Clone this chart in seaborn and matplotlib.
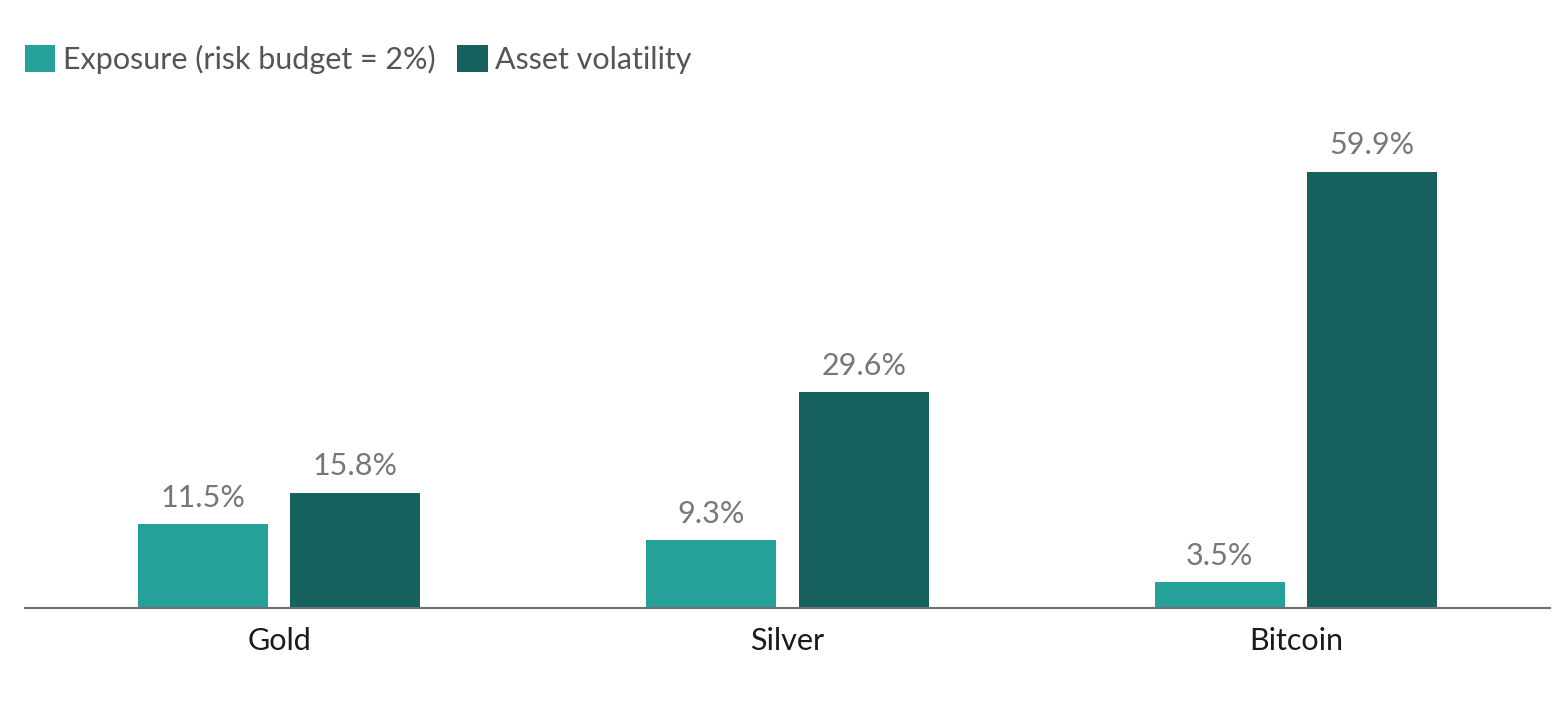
import pandas as pd
import seaborn as sns
import matplotlib.pyplot as plt
from matplotlib.patches import Patch

assets = ['Gold', 'Silver', 'Bitcoin']
exposure = [11.5, 9.3, 3.5]
volatility = [15.8, 29.6, 59.9]
series = ['Exposure (risk budget = 2%)', 'Asset volatility']
colors = ['#26A19A', '#17615E']

df = pd.DataFrame({
    'asset': assets * 2,
    'value': exposure + volatility,
    'series': [series[0]] * 3 + [series[1]] * 3,
})

sns.set_theme(style='white')
plt.rcParams['font.family'] = ['Lato', 'DejaVu Sans']

fig = plt.figure(figsize=(15.55, 7.2), dpi=100)
ax = fig.add_axes([0.0161, 0.1556, 0.9807, 0.7078])

sns.barplot(data=df, x='asset', y='value', hue='series', palette=colors,
            saturation=1, width=0.6, gap=0.148, linewidth=0,
            legend=False, ax=ax)

for c in ax.containers:
    ax.bar_label(c, labels=[f'{v:.1f}%' for v in c.datavalues],
                 padding=9, fontsize=22, color='#777777')

ax.set_xlim(-0.5, 2.5)
ax.set_ylim(0, 70)
ax.set_xlabel('')
ax.set_ylabel('')
ax.set_yticks([])
ax.tick_params(axis='x', length=0, labelsize=22, labelcolor='#1a1a1a', pad=14)
for s in ['top', 'right', 'left']:
    ax.spines[s].set_visible(False)
ax.spines['bottom'].set_color('#707070')
ax.spines['bottom'].set_linewidth(1.5)

handles = [Patch(facecolor=c, edgecolor='none') for c in colors]
fig.legend(handles, series, loc='upper left', bbox_to_anchor=(0.016, 0.938),
           ncol=2, frameon=False, fontsize=22, labelcolor='#555555',
           handlelength=1.0, handleheight=1.0, handletextpad=0.25,
           columnspacing=0.7, borderaxespad=0, borderpad=0)

fig.savefig('out.png', dpi=100)
